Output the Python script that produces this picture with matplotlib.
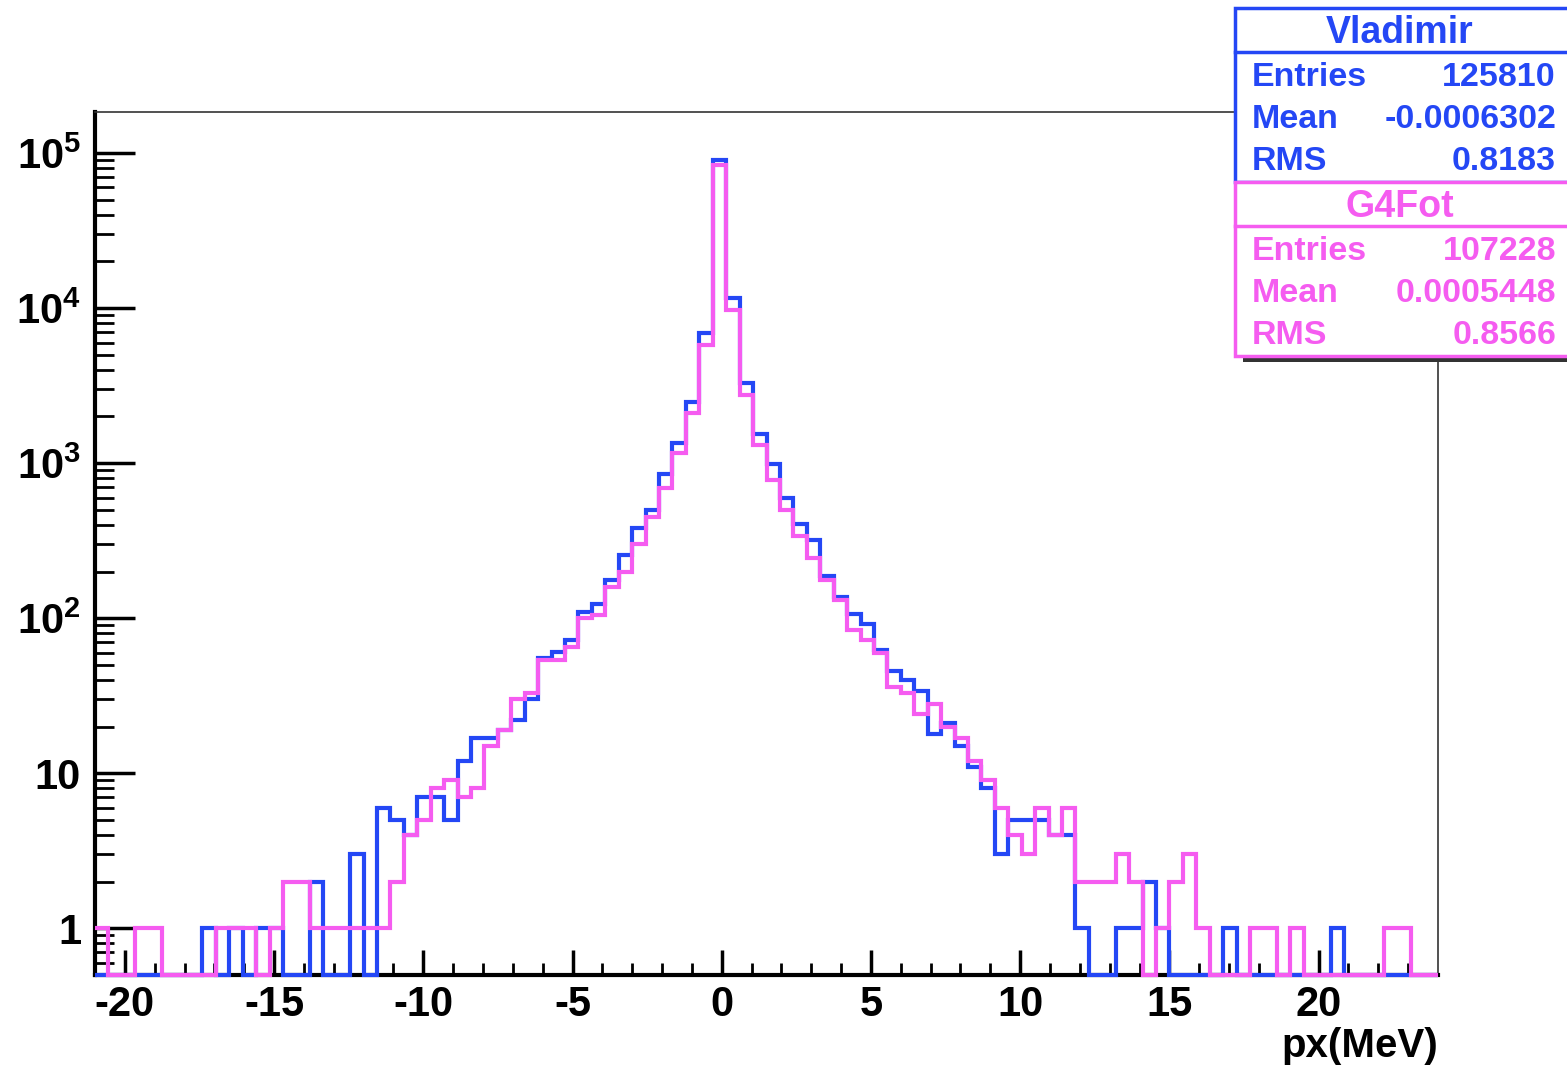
import numpy as np
import matplotlib.pyplot as plt
from matplotlib.patches import Rectangle
from matplotlib.ticker import FixedLocator, NullFormatter

plt.rcParams["font.family"] = "Liberation Sans"
plt.rcParams["font.weight"] = "bold"
plt.rcParams["mathtext.fontset"] = "custom"
plt.rcParams["mathtext.rm"] = "Liberation Sans:bold"
plt.rcParams["mathtext.bf"] = "Liberation Sans:bold"

# histogram binning: 100 bins from -21 to 24 MeV
x_lo, x_hi, n_bins = -21.0, 24.0, 100

vladimir = [
    0, 0, 0, 0, 0, 0, 0, 0, 1, 0,
    1, 0, 1, 1, 0, 0, 2, 0, 0, 3,
    0, 6, 5, 4, 7, 7, 5, 12, 17, 17,
    19, 22, 30, 55, 61, 72, 110, 124, 176, 255,
    379, 497, 857, 1340, 2490, 6870, 90100, 11560, 3265, 1553,
    995, 600, 408, 318, 186, 137, 107, 92, 62, 46,
    40, 34, 18, 21, 15, 11, 8, 3, 5, 5,
    5, 4, 4, 1, 0, 0, 1, 1, 2, 1,
    0, 0, 0, 0, 1, 0, 0, 0, 0, 0,
    0, 0, 1, 0, 0, 0, 0, 0, 0, 0,
]

g4fot = [
    1, 0, 0, 1, 1, 0, 0, 0, 0, 1,
    1, 1, 0, 1, 2, 2, 1, 1, 1, 1,
    1, 1, 2, 4, 5, 8, 9, 7, 8, 15,
    19, 30, 33, 54, 54, 65, 100, 105, 159, 199,
    303, 451, 687, 1155, 2093, 5770, 83700, 9710, 2747, 1306,
    777, 497, 340, 246, 176, 131, 84, 72, 60, 36,
    33, 24, 28, 20, 17, 12, 9, 6, 4, 3,
    6, 4, 6, 2, 2, 2, 3, 2, 0, 1,
    2, 3, 1, 0, 0, 0, 1, 1, 0, 1,
    0, 0, 0, 0, 0, 0, 1, 1, 0, 0,
]

stats_vlad = [("Entries", "125810"), ("Mean", "-0.0006302"), ("RMS", "0.8183")]
stats_g4 = [("Entries", "107228"), ("Mean", "0.0005448"), ("RMS", "0.8566")]

x_ticks = [-20, -15, -10, -5, 0, 5, 10, 15, 20]
y_ticks = [1, 10, 100, 1000, 10000, 100000]
y_ticklabels = ["1", "10", r"$10^{2}$", r"$10^{3}$", r"$10^{4}$", r"$10^{5}$"]

blue = "#2447f5"
pink = "#f55cf0"

W, H = 1567, 1071
y_min, y_max = 0.5, 1.84e5

fig = plt.figure(figsize=(W / 100, H / 100), dpi=100)
ax = fig.add_axes([95 / W, 1 - 975 / H, (1438 - 95) / W, (975 - 112) / H])

edges = np.linspace(x_lo, x_hi, n_bins + 1)
for vals, col in [(vladimir, blue), (g4fot, pink)]:
    v = np.asarray(vals, dtype=float)
    v = np.where(v > 0, v, y_min)  # empty bins sit on the bottom axis, as in ROOT
    ax.stairs(v, edges, baseline=None, color=col, linewidth=3.0, zorder=3, clip_on=False)

ax.set_yscale("log")
ax.set_xlim(x_lo, x_hi)
ax.set_ylim(y_min, y_max)

for s in ax.spines.values():
    s.set_linewidth(1.2)
    s.set_color("#333333")
ax.spines["bottom"].set_linewidth(3)
ax.spines["left"].set_linewidth(3)
ax.spines["bottom"].set_color("black")
ax.spines["left"].set_color("black")

ax.xaxis.set_major_locator(FixedLocator(x_ticks))
ax.xaxis.set_minor_locator(FixedLocator(np.arange(-20, 24, 1)))
ax.set_xticklabels([str(t) for t in x_ticks])

minor_y = [m * 10.0 ** e for e in range(-1, 6) for m in range(2, 10)]
minor_y = [m for m in minor_y if y_min <= m <= y_max]
ax.yaxis.set_major_locator(FixedLocator(y_ticks))
ax.yaxis.set_minor_locator(FixedLocator(minor_y))
ax.yaxis.set_minor_formatter(NullFormatter())
ax.set_yticklabels(y_ticklabels)

ax.tick_params(axis="x", which="major", direction="in", length=18, width=2.5,
               labelsize=30, pad=7, top=False)
ax.tick_params(axis="x", which="minor", direction="in", length=9, width=2, top=False)
ax.tick_params(axis="y", which="major", direction="in", length=29, width=2.5,
               labelsize=30, pad=10, right=False)
ax.tick_params(axis="y", which="minor", direction="in", length=14, width=2, right=False)

ax.text(1.0, -0.06, "px(MeV)", transform=ax.transAxes, ha="right", va="top",
        fontsize=29, fontweight="bold")


def fx(px):
    return px / W


def fy(py):
    return 1 - py / H


def stat_box(top, title, rows, col):
    x0, x1 = 1235, 1570
    bot = top + 174
    fig.patches.append(Rectangle((fx(x0), fy(bot)), fx(x1 - x0), (bot - top) / H,
                                 transform=fig.transFigure, facecolor="white",
                                 edgecolor=col, linewidth=2.5, zorder=5))
    fig.lines.append(plt.Line2D([fx(x0), fx(x1)], [fy(top + 44), fy(top + 44)],
                                transform=fig.transFigure, color=col, linewidth=2.5,
                                zorder=6))
    fig.text(fx(1400), fy(top + 25), title, color=col, ha="center", va="center",
             fontsize=27, fontweight="bold", zorder=7)
    for i, (name, val) in enumerate(rows):
        yy = fy(top + 69 + 42 * i)
        fig.text(fx(1252), yy, name, color=col, ha="left", va="center",
                 fontsize=24.5, fontweight="bold", zorder=7)
        fig.text(fx(1556), yy, val, color=col, ha="right", va="center",
                 fontsize=24.5, fontweight="bold", zorder=7)


# shadow under the lower box
fig.patches.append(Rectangle((fx(1243), fy(362)), fx(1570 - 1243), 5 / H,
                             transform=fig.transFigure, facecolor="#333333",
                             edgecolor="none", zorder=4))
stat_box(8, "Vladimir", stats_vlad, blue)
stat_box(182, "G4Fot", stats_g4, pink)

fig.savefig("out.png", dpi=100)
